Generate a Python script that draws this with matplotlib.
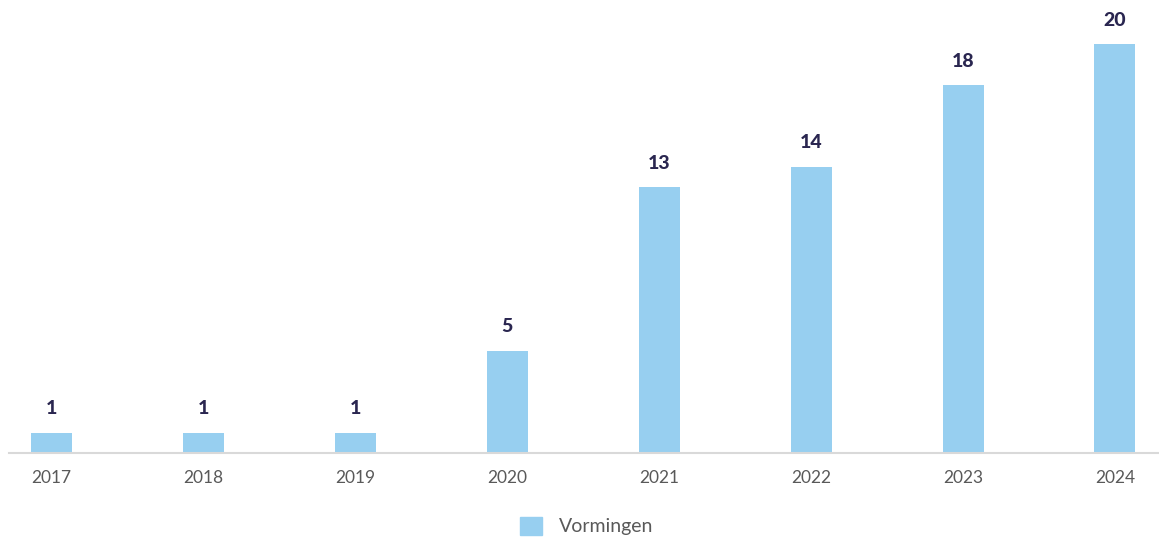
import matplotlib.pyplot as plt
from matplotlib.patches import Patch

years = ["2017", "2018", "2019", "2020", "2021", "2022", "2023", "2024"]
vormingen = [1, 1, 1, 5, 13, 14, 18, 20]

bar_color = "#97cff0"
label_color = "#2a2650"

plt.rcParams["font.family"] = ["Lato", "DejaVu Sans"]

fig = plt.figure(figsize=(11.59, 5.40), dpi=100)
ax = fig.add_axes([9 / 1159, 87 / 540, 1 - 9 / 1159, 443 / 540])

x = range(len(years))
bars = ax.bar(x, vormingen, width=0.27, color=bar_color, zorder=2)

for rect, v in zip(bars, vormingen):
    ax.annotate(str(v), (rect.get_x() + rect.get_width() / 2, rect.get_height()),
                xytext=(0, 11), textcoords="offset points", ha="center", va="bottom",
                fontsize=14, fontweight="black", color=label_color)

ax.set_xlim(-0.28, 7.29)
ax.set_ylim(0, 21.66)
ax.set_xticks(list(x))
ax.set_xticklabels(years, fontsize=12.5, color="#595959")
ax.tick_params(axis="x", length=0, pad=12)
ax.set_yticks([])
for side in ["top", "right", "left"]:
    ax.spines[side].set_visible(False)
ax.spines["bottom"].set_color("#d9d9d9")
ax.spines["bottom"].set_linewidth(1.5)

fig.legend(handles=[Patch(color=bar_color, label="Vormingen")], loc="center",
           bbox_to_anchor=(587 / 1159, 1 - 526 / 540), frameon=False, fontsize=14,
           handlelength=1.1, handleheight=1.1, handletextpad=0.9, labelcolor="#595959")

fig.savefig("out.png", dpi=100)
